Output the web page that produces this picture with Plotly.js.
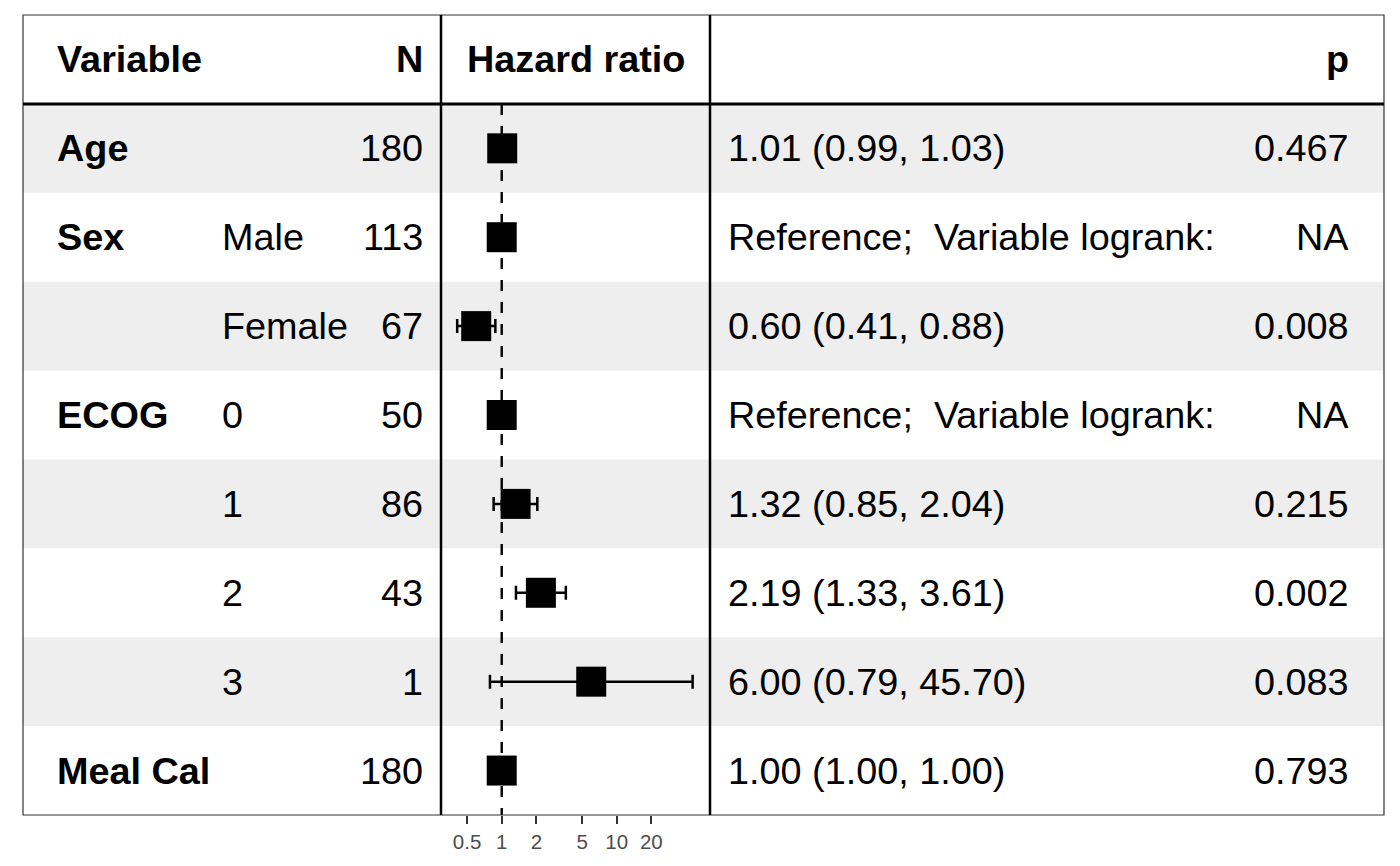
<!DOCTYPE html>
<html>
<head>
<meta charset="utf-8">
<script src="https://cdn.plot.ly/plotly-3.0.1.min.js"></script>
<style>html,body{margin:0;padding:0;background:#fff;}#chart{width:1400px;height:866px;}</style>
</head>
<body>
<div id="chart"></div>
<script>
// ---- data ----
const variables = ['Age', 'Sex', '', 'ECOG', '', '', '', 'Meal Cal'];
const levels    = ['', 'Male', 'Female', '0', '1', '2', '3', ''];
const nObs      = [180, 113, 67, 50, 86, 43, 1, 180];
const hr        = [1.01, 1, 0.60, 1, 1.32, 2.19, 6.00, 1.00];
const lower     = [0.99, null, 0.41, null, 0.85, 1.33, 0.79, 1.00];
const upper     = [1.03, null, 0.88, null, 2.04, 3.61, 45.70, 1.00];
const isRef     = [false, true, false, true, false, false, false, false];
const pvals     = ['0.467', 'NA', '0.008', 'NA', '0.215', '0.002', '0.083', '0.793'];
const headers   = ['Variable', 'N', 'Hazard ratio', 'p'];
const tickVals  = [0.5, 1, 2, 5, 10, 20];
const tickText  = ['0.5', '1', '2', '5', '10', '20'];

// ---- layout constants ----
const W = 1400, H = 866;
const M = {l: 23, r: 16, t: 15, b: 51};
const PW = W - M.l - M.r;
const px = v => (v - M.l) / PW;          // page pixel -> paper fraction (layout only)
const FONT = 'Liberation Sans, Arial, Helvetica, sans-serif';
const FS = 37.8;

const rows = hr.map((_, i) => i + 1);    // row index on y axis (header = 0)

const fmt = v => v.toFixed(2);
const estText = hr.map((h, i) => isRef[i]
  ? 'Reference;\u00a0\u00a0Variable logrank:'
  : fmt(h) + ' (' + fmt(lower[i]) + ', ' + fmt(upper[i]) + ')');

const traces = [
  { // reference line at HR = 1
    type: 'scatter', mode: 'lines',
    x: [1, 1], y: [0.5, rows.length + 0.5],
    line: {color: '#000', width: 2.4, dash: '11px,11px'},
    hoverinfo: 'skip', showlegend: false
  },
  {
    type: 'scatter', mode: 'markers',
    x: hr, y: rows,
    marker: {symbol: 'square', size: 30, color: '#000'},
    error_x: {
      type: 'data', symmetric: false,
      array: hr.map((h, i) => upper[i] == null ? 0 : upper[i] - h),
      arrayminus: hr.map((h, i) => lower[i] == null ? 0 : h - lower[i]),
      color: '#000', thickness: 2.5, width: 7
    },
    hoverinfo: 'skip', showlegend: false
  }
];

const shapes = [];
rows.forEach((r, i) => {
  if (i % 2 === 0) {
    shapes.push({type: 'rect', layer: 'below', xref: 'paper', yref: 'y',
      x0: 0, x1: 1, y0: r - 0.5, y1: r + 0.5,
      fillcolor: '#eeeeee', line: {width: 0}});
  }
});
// outer frame
shapes.push({type: 'rect', xref: 'paper', yref: 'paper', x0: 0, x1: 1, y0: 0, y1: 1,
  line: {color: '#333', width: 1.2}});
// header separator
shapes.push({type: 'line', xref: 'paper', yref: 'y', x0: 0, x1: 1, y0: 0.5, y1: 0.5,
  line: {color: '#000', width: 3}});
// forest panel borders
[441, 710].forEach(v => shapes.push({type: 'line', xref: 'paper', yref: 'paper',
  x0: px(v), x1: px(v), y0: 0, y1: 1, line: {color: '#000', width: 2.5}}));

const colVar = px(56), colLev = px(221), colN = px(424), colHR = px(576),
      colEst = px(727), colP = px(1350);

const annotations = [];
const ann = (text, x, y, xanchor, bold) => annotations.push({
  text: bold ? '<b>' + text + '</b>' : text,
  x: x, y: y, xref: 'paper', yref: 'y', xanchor: xanchor, yanchor: 'middle',
  showarrow: false, font: {family: FONT, size: FS, color: '#000'}, borderpad: 0
});
ann(headers[0], colVar, 0, 'left', true);
ann(headers[1], colN, 0, 'right', true);
ann(headers[2], colHR, 0, 'center', true);
ann(headers[3], colP, 0, 'right', true);
rows.forEach((r, i) => {
  if (variables[i]) ann(variables[i], colVar, r, 'left', true);
  if (levels[i]) ann(levels[i], colLev, r, 'left', false);
  ann(String(nObs[i]), colN, r, 'right', false);
  ann(estText[i], colEst, r, 'left', false);
  ann(pvals[i], colP, r, 'right', false);
});

const layout = {
  width: W, height: H,
  margin: M,
  paper_bgcolor: '#fff', plot_bgcolor: 'rgba(0,0,0,0)',
  showlegend: false,
  xaxis: {
    type: 'log', domain: [px(441), px(710)],
    range: [-0.528, 1.811],
    tickvals: tickVals, ticktext: tickText,
    ticks: 'outside', ticklen: 8, tickwidth: 2, tickcolor: '#333',
    tickfont: {family: FONT, size: 20.5, color: '#4d4d4d'},
    showgrid: false, zeroline: false, showline: false, fixedrange: true
  },
  yaxis: {
    range: [rows.length + 0.5, -0.5], domain: [0, 1],
    visible: false, fixedrange: true
  },
  shapes: shapes,
  annotations: annotations
};

Plotly.newPlot('chart', traces, layout, {displayModeBar: false, staticPlot: true});
</script>
</body>
</html>
